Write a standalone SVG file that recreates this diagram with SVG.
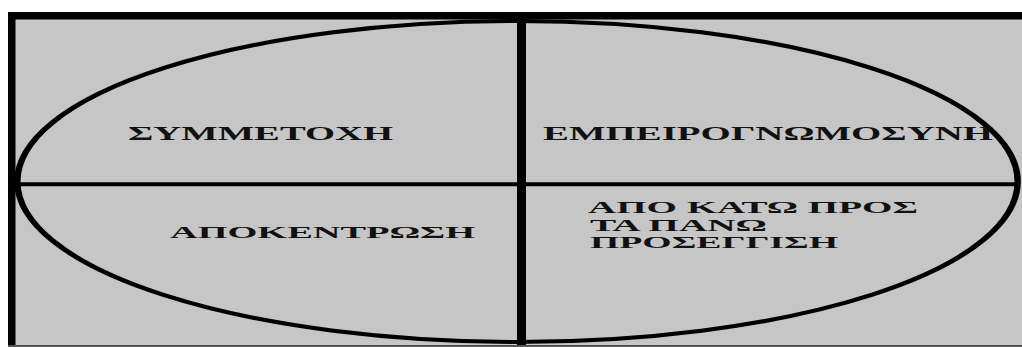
<svg xmlns="http://www.w3.org/2000/svg" width="1022" height="347" viewBox="0 0 1022 347">
  <style>
    .lbl { font-family: "Liberation Serif", "Times New Roman", serif; font-weight: bold; fill: #111; }
    .big { font-size: 18px; }
    .sm { font-size: 16px; }
  </style>
  <rect x="0" y="0" width="1022" height="347" fill="#ffffff"/>
  <g id="frame">
    <rect x="8" y="12" width="1014" height="335" fill="#c6c6c6"/>
    <rect x="8" y="12" width="1014" height="7.5" fill="#000"/>
    <rect x="8" y="12" width="7.5" height="335" fill="#000"/>
    <rect x="8" y="345" width="1014" height="2" fill="#555"/>
  </g>
  <g id="connectors">
    <g transform="translate(517.5,181.5) scale(1.6,1)">
      <ellipse cx="0" cy="0" rx="312.6" ry="160.5" fill="none" stroke="#000" stroke-width="4"/>
    </g>
    <line x1="17" y1="184.3" x2="1018" y2="184.3" stroke="#000" stroke-width="4"/>
    <line x1="521.5" y1="19" x2="521.5" y2="345" stroke="#000" stroke-width="9"/>
  </g>
  <g id="q1">
    <text class="lbl big" x="128" y="140" textLength="265" lengthAdjust="spacingAndGlyphs">ΣΥΜΜΕΤΟΧΗ</text>
  </g>
  <g id="q2">
    <text class="lbl big" x="543" y="140" textLength="450" lengthAdjust="spacingAndGlyphs">ΕΜΠΕΙΡΟΓΝΩΜΟΣΥΝΗ</text>
  </g>
  <g id="q3">
    <text class="lbl sm" x="170" y="238" textLength="305" lengthAdjust="spacingAndGlyphs">ΑΠΟΚΕΝΤΡΩΣΗ</text>
  </g>
  <g id="q4">
    <text class="lbl sm" x="588" y="213" textLength="330" lengthAdjust="spacingAndGlyphs">ΑΠΟ ΚΑΤΩ ΠΡΟΣ</text>
    <text class="lbl sm" x="590" y="231" textLength="177" lengthAdjust="spacingAndGlyphs">ΤΑ ΠΑΝΩ</text>
    <text class="lbl sm" x="590" y="248" textLength="248" lengthAdjust="spacingAndGlyphs">ΠΡΟΣΕΓΓΙΣΗ</text>
  </g>
</svg>
